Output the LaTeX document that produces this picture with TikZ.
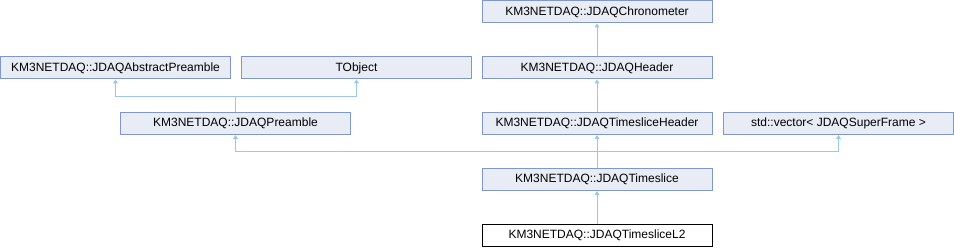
\documentclass[tikz,border=0pt]{standalone}
\usepackage{fontspec}
\setmainfont{Liberation Sans}
\usepackage{xcolor}
\usepackage{tikz}
\usetikzlibrary{arrows.meta,positioning}

\definecolor{boxfill}{HTML}{E8ECF5}
\definecolor{boxline}{HTML}{7F97CC}
\definecolor{edgeblue}{HTML}{9CC8E4}

\begin{document}
\begin{tikzpicture}[
    x=1pt, y=-1pt,
    cls/.style={draw=boxline,fill=boxfill,line width=1pt,minimum width=230pt,
                minimum height=22pt,inner sep=1pt,
                font=\fontsize{12}{14}\selectfont},
    leaf/.style={cls,draw=black,fill=white},
    inh/.style={-{Triangle[length=4pt,width=5pt]},edgeblue,line width=1pt},
  ]
  \useasboundingbox (0,0) rectangle (954,248);

  % --- top row ---
  \node[cls] (chrono) at (597,12)  {KM3NETDAQ::JDAQChronometer};

  % --- second row ---
  \node[cls] (abspre) at (115.5,68) {KM3NETDAQ::JDAQAbstractPreamble};
  \node[cls] (tobj)   at (356.5,68) {TObject};
  \node[cls] (header) at (597,68)   {KM3NETDAQ::JDAQHeader};

  % --- third row ---
  \node[cls] (pre)    at (235.5,123.5) {KM3NETDAQ::JDAQPreamble};
  \node[cls] (tshead) at (597,123.5)   {KM3NETDAQ::JDAQTimesliceHeader};
  \node[cls] (vec)    at (838.5,123.5) {std::vector< JDAQSuperFrame >};

  % --- bottom rows ---
  \node[cls]  (ts)   at (597,179.5) {KM3NETDAQ::JDAQTimeslice};
  \node[leaf] (tsl2) at (597,235.5) {KM3NETDAQ::JDAQTimesliceL2};

  % --- inheritance ---
  \draw[inh] (header) -- (chrono);
  \draw[inh] (tshead) -- (header);
  \draw[inh] (tsl2) -- (ts);
  \draw[inh] (pre.north) -- ++(0,-15) -| (abspre.south);
  \draw[inh] (pre.north) -- ++(0,-15) -| (tobj.south);
  \draw[inh] (ts.north) -- ++(0,-16) -| (pre.south);
  \draw[inh] (ts.north) -- (tshead.south);
  \draw[inh] (ts.north) -- ++(0,-16) -| (vec.south);

\end{tikzpicture}
\end{document}
